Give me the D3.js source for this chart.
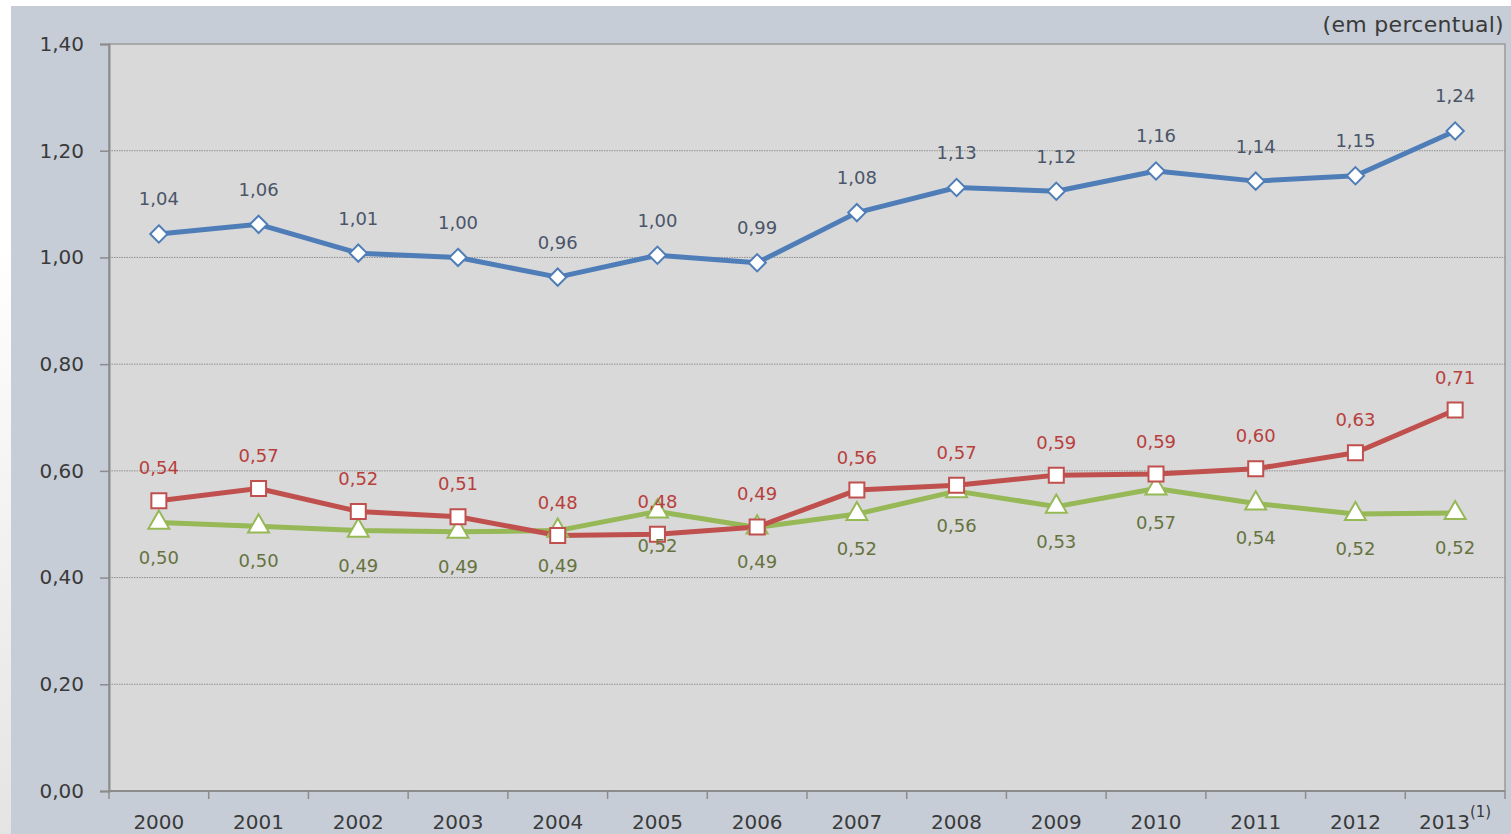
<!DOCTYPE html>
<html>
<head>
<meta charset="utf-8">
<script src="https://cdn.jsdelivr.net/npm/d3@7"></script>
<style>
  html, body { margin: 0; padding: 0; background: #ffffff; overflow: hidden; }
  svg { display: block; }
</style>
</head>
<body>
<svg id="chart" width="1511" height="834"></svg>
<script>
// ---- data ----
const years = ["2000","2001","2002","2003","2004","2005","2006","2007","2008","2009","2010","2011","2012","2013"];
const seriesBlue  = [1.044, 1.062, 1.008, 1.000, 0.963, 1.004, 0.990, 1.084, 1.131, 1.124, 1.162, 1.143, 1.153, 1.237];
const seriesRed   = [0.544, 0.567, 0.524, 0.514, 0.479, 0.481, 0.495, 0.564, 0.573, 0.592, 0.594, 0.604, 0.634, 0.714];
const seriesGreen = [0.503, 0.496, 0.488, 0.486, 0.488, 0.524, 0.494, 0.519, 0.562, 0.533, 0.567, 0.539, 0.519, 0.521];
const yTicks = [0, 0.2, 0.4, 0.6, 0.8, 1.0, 1.2, 1.4];
const unitLabel = "(em percentual)";
const lastYearNote = "(1)";

// ---- setup ----
const svg = d3.select("#chart");
const W = 1511, H = 834;
const plot = { left: 109, right: 1505, top: 44, bottom: 791 };

const loc = d3.formatLocale({ decimal: ",", thousands: ".", grouping: [3], currency: ["", ""] });
const fmt = loc.format(".2f");

const x = d3.scaleBand().domain(years).range([plot.left, plot.right]).padding(0);
const y = d3.scaleLinear().domain([0, 1.4]).range([plot.bottom, plot.top]);
const cx = d => x(d) + x.bandwidth() / 2;

// background
const defs = svg.append("defs");
const grad = defs.append("linearGradient").attr("id", "edge").attr("x1", 0).attr("y1", 0).attr("x2", 0).attr("y2", 1);
grad.append("stop").attr("offset", "0%").attr("stop-color", "#ffffff");
grad.append("stop").attr("offset", "100%").attr("stop-color", "#e4e4e4");
svg.append("rect").attr("x", 0).attr("y", 0).attr("width", W).attr("height", H).attr("fill", "#ffffff");
svg.append("rect").attr("x", 0).attr("y", 240).attr("width", 11).attr("height", H - 240).attr("fill", "url(#edge)");
svg.append("rect").attr("x", 11).attr("y", 6).attr("width", W - 11).attr("height", H - 6).attr("fill", "#c6cdd7");

// plot area
svg.append("rect")
  .attr("x", plot.left).attr("y", plot.top)
  .attr("width", plot.right - plot.left).attr("height", plot.bottom - plot.top)
  .attr("fill", "#d9d9d9").attr("stroke", "#9a9a9a").attr("stroke-width", 1.5);

// gridlines
svg.append("g").selectAll("line").data(yTicks.filter(t => t > 0 && t < 1.4)).join("line")
  .attr("x1", plot.left).attr("x2", plot.right)
  .attr("y1", d => y(d)).attr("y2", d => y(d))
  .attr("stroke", "#8f8f8f").attr("stroke-width", 1).attr("stroke-dasharray", "1.5,1");

// y axis
const yAxis = d3.axisLeft(y).tickValues(yTicks).tickFormat(fmt).tickSize(9).tickPadding(16);
const gy = svg.append("g").attr("transform", `translate(${plot.left},0)`).call(yAxis);
gy.select(".domain").attr("stroke", "#8c8c8c").attr("stroke-width", 2);
gy.selectAll(".tick line").attr("stroke", "#8c8c8c").attr("stroke-width", 1.5);
gy.selectAll(".tick text")
  .attr("font-family", "'DejaVu Sans', Verdana, sans-serif").attr("font-size", 20)
  .attr("fill", "#3a3a3a");

// x axis (ticks at category boundaries)
const boundaries = years.map(d => x(d)).concat([plot.right]);
svg.append("line")
  .attr("x1", plot.left).attr("x2", plot.right).attr("y1", plot.bottom).attr("y2", plot.bottom)
  .attr("stroke", "#8c8c8c").attr("stroke-width", 2);
svg.append("g").selectAll("line").data(boundaries).join("line")
  .attr("x1", d => d).attr("x2", d => d)
  .attr("y1", plot.bottom).attr("y2", plot.bottom + 8)
  .attr("stroke", "#8c8c8c").attr("stroke-width", 1.5);
const xl = svg.append("g").selectAll("text").data(years).join("text")
  .attr("x", d => cx(d)).attr("y", 829)
  .attr("text-anchor", "middle")
  .attr("font-family", "'DejaVu Sans', Verdana, sans-serif").attr("font-size", 20)
  .attr("fill", "#3a3a3a")
  .text(d => d);
xl.filter((d, i) => i === years.length - 1).append("tspan")
  .attr("font-size", 15).attr("dy", -12).text(lastYearNote);

// unit label
svg.append("text")
  .attr("x", 1504).attr("y", 32).attr("text-anchor", "end")
  .attr("font-family", "'DejaVu Sans', Verdana, sans-serif").attr("font-size", 22)
  .attr("letter-spacing", 0.3)
  .attr("fill", "#3a3a3a").text(unitLabel);

// series
const series = [
  { values: seriesBlue,  color: "#4f7db8", label: "#4a5569", marker: "diamond",  dy: -28.5 },
  { values: seriesRed,   color: "#c0504d", label: "#b8403c", marker: "square",   dy: -26.5 },
  { values: seriesGreen, color: "#96b856", label: "#66733f", marker: "triangle", dy: 41 }
];

const line = d3.line().x((d, i) => cx(years[i])).y(d => y(d));

const symbolFor = {
  diamond:  d3.symbol().type(d3.symbolDiamond2).size(190),
  square:   d3.symbol().type(d3.symbolSquare).size(225),
  triangle: d3.symbol().type(d3.symbolTriangle).size(190)
};

[series[2], series[1], series[0]].forEach(s => {
  svg.append("path").datum(s.values)
    .attr("d", line).attr("fill", "none")
    .attr("stroke", s.color).attr("stroke-width", 5).attr("stroke-linejoin", "round");
});
[series[2], series[1], series[0]].forEach(s => {
  svg.append("g").selectAll("path").data(s.values).join("path")
    .attr("d", symbolFor[s.marker])
    .attr("transform", (d, i) => `translate(${cx(years[i])},${y(d)})`)
    .attr("fill", "#ffffff").attr("stroke", s.color).attr("stroke-width", 2);
});
series.forEach(s => {
  svg.append("g").selectAll("text").data(s.values).join("text")
    .attr("x", (d, i) => cx(years[i]))
    .attr("y", d => y(d) + s.dy)
    .attr("text-anchor", "middle")
    .attr("font-family", "'DejaVu Sans', Verdana, sans-serif").attr("font-size", 18)
    .attr("fill", s.label)
    .text(d => fmt(d));
});
</script>
</body>
</html>
